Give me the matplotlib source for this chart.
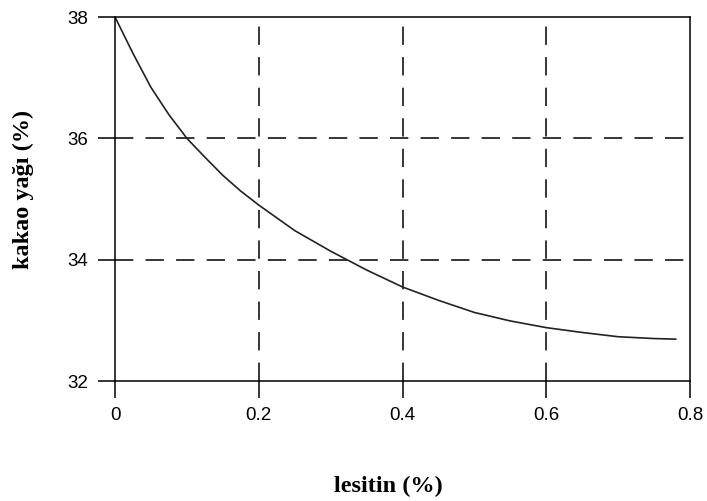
import numpy as np
import matplotlib.pyplot as plt

# values
lesitin = [0.0, 0.025, 0.05, 0.075, 0.1, 0.125, 0.15, 0.175, 0.2, 0.25, 0.3, 0.35, 0.4,
           0.45, 0.5, 0.55, 0.6, 0.65, 0.7, 0.75, 0.78]
kakao_yagi = [38.0, 37.4, 36.84, 36.39, 36.0, 35.69, 35.39, 35.13, 34.9, 34.48, 34.14, 33.83, 33.55,
              33.33, 33.13, 32.99, 32.88, 32.8, 32.73, 32.7, 32.69]

x_ticks = [0, 0.2, 0.4, 0.6, 0.8]
x_tick_labels = ['0', '0.2', '0.4', '0.6', '0.8']
y_ticks = [32, 34, 36, 38]
grid_x = [0.2, 0.4, 0.6]
grid_y = [34, 36]

fig = plt.figure(figsize=(7.07, 5.01), dpi=100)
ax = fig.add_axes([0.1627, 0.2395, 0.8133, 0.7265])

# kesikli izgara
for gx in grid_x:
    ax.axvline(gx, color='black', lw=1.1, ls=(0, (12, 8)), zorder=1)
for gy in grid_y:
    ax.axhline(gy, color='black', lw=1.1, ls=(0, (12, 8)), zorder=1)

ax.plot(lesitin, kakao_yagi, color='#222222', lw=1.2, zorder=2)

ax.set_xlim(0, 0.8)
ax.set_ylim(32, 38)
ax.set_xticks(x_ticks)
ax.set_xticklabels(x_tick_labels)
ax.set_yticks(y_ticks)

for s in ax.spines.values():
    s.set_linewidth(1.1)
ax.tick_params(axis='both', direction='out', length=12.5, width=1.1,
               labelsize=13.5, labelfontfamily='Liberation Sans')
ax.tick_params(axis='x', pad=6)
ax.tick_params(axis='y', pad=7)

fig.text(0.549, 1 - 486 / 501, 'lesitin (%)', ha='center', va='center',
         family='Liberation Serif', weight='bold', fontsize=17.5)
fig.text(23 / 707, 1 - 189 / 501, 'kakao yağı (%)', ha='center', va='center', rotation=90,
         family='Liberation Serif', weight='bold', fontsize=17.5)

fig.savefig('out.png', dpi=100)
